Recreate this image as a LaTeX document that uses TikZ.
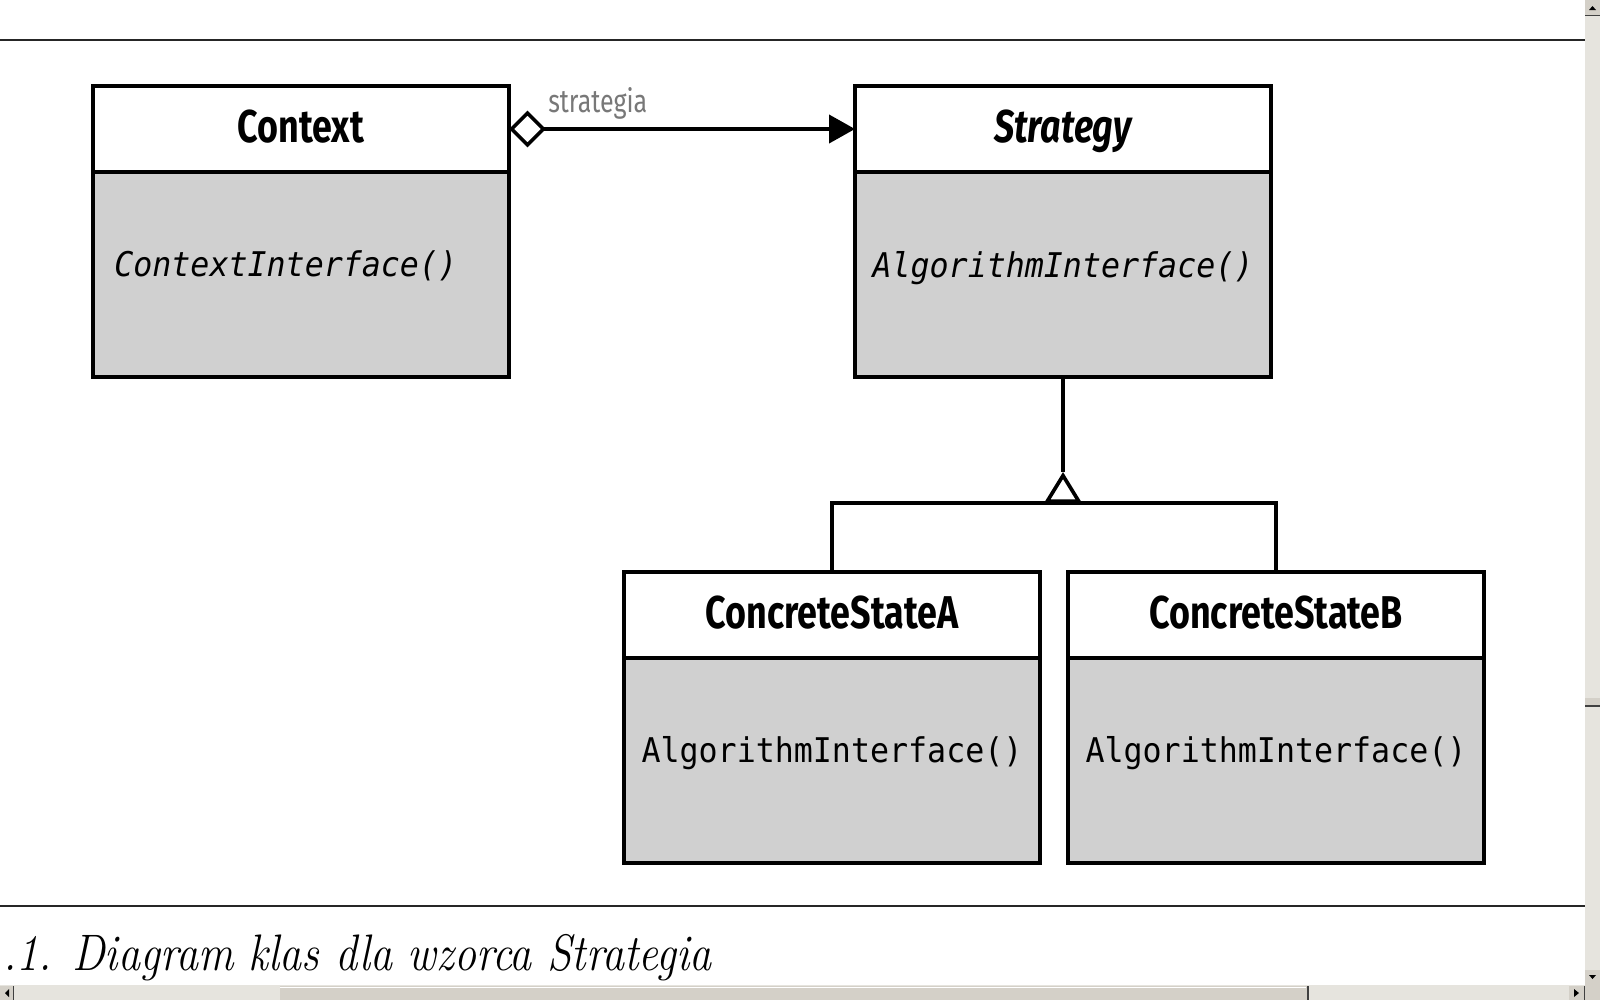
\documentclass[tikz,border=0pt]{standalone}
\usepackage{fontspec}
\newfontfamily\titlefont{Fira Sans}[FakeStretch=0.78]
\newfontfamily\methfont{DejaVu Sans Mono}[FakeStretch=0.93]
\usetikzlibrary{arrows.meta}
\definecolor{boxgray}{RGB}{208,208,208}
\definecolor{labgray}{RGB}{120,120,120}
\definecolor{sbtrack}{RGB}{230,228,222}
\definecolor{sbbtn}{RGB}{212,208,200}
\definecolor{sbshadow}{RGB}{64,64,64}
\def\px{0.25mm}
\tikzset{
  hdr/.style={draw=black, line width=2.9pt, fill=white, rectangle, inner sep=0pt, outer sep=0pt,
    anchor=north west, minimum width=416*\px, minimum height=86*\px,
    font=\titlefont\bfseries\fontsize{32.7}{36}\selectfont, text height=22.6pt, text depth=4pt},
  body/.style={draw=black, line width=2.9pt, fill=boxgray, rectangle, inner sep=0pt, outer sep=0pt,
    anchor=north west, minimum width=416*\px, minimum height=205*\px},
  meth/.style={inner sep=0pt, font=\methfont\fontsize{24.2}{28}\selectfont,
    text height=17.6pt, text depth=0pt},
  conn/.style={line width=2.6pt, black},
  rulel/.style={line width=1.6pt, black!85},
  sbtr/.style={fill=sbtrack, draw=none},
  sbbt/.style={fill=sbbtn, draw=none},
}
\begin{document}
\begin{tikzpicture}[x=0.25mm, y=-0.25mm]
\useasboundingbox[fill=white] (0,0) rectangle (1600,1000);

% rules
\draw[rulel] (0,40) -- (1585,40);
\draw[rulel] (0,906) -- (1585,906);

% Context
\node[hdr] (ctxh) at (93,86) {Context};
\node[body] (ctxb) at (93,172) {};
\node[meth, anchor=west] (ctxm) at (114,264) {\itshape ContextInterface()};

% Strategy
\node[hdr] (strh) at (855,86) {\itshape Strategy};
\node[body] (strb) at (855,172) {};
\node[meth] (strm) at (1063,265) {\itshape AlgorithmInterface()};

% ConcreteStateA
\node[hdr] (ah) at (624,572) {ConcreteStateA};
\node[body] (ab) at (624,658) {};
\node[meth] (am) at (832,750) {AlgorithmInterface()};

% ConcreteStateB
\node[hdr] (bh) at (1068,572) {ConcreteStateB};
\node[body] (bb) at (1068,658) {};
\node[meth] (bm) at (1276,750) {AlgorithmInterface()};

% aggregation
\draw[conn, {Diamond[open,length=26.3pt,width=26.3pt]}-{Triangle[length=18.5pt,width=20pt]}] (ctxh.east) -- (strh.west);
\node[anchor=base west, inner sep=0pt, text=labgray, font=\titlefont\fontsize{22.8}{26}\selectfont] (lab) at (548,112) {strategia};

% generalization
\coordinate (gtip) at (1063,472);
\coordinate (gbar) at (1063,503);
\draw[conn] (strb.south) -- (gtip);
\draw[conn, -{Triangle[open,length=22pt,width=26.3pt]}] (gbar) -- (gtip);
\draw[conn] (ah.north) |- (gbar) -| (bh.north);

% caption
\node[anchor=base west, inner sep=0pt, font=\fontsize{36.5}{40}\selectfont\itshape] (cap) at (3,970) {\scalebox{0.86}[1]{.1. Diagram klas dla wzorca Strategia}};

% vertical scrollbar
\fill[sbtr] (1585,0) rectangle (1600,984);
\fill[sbbt] (1585,0) rectangle (1600,15);
\draw[sbshadow, line width=0.7pt] (1585,15) -- (1600,15);
\fill[black] (1589,10) -- (1596,10) -- (1592.5,6) -- cycle;
\fill[sbbt] (1585,698) rectangle (1600,706);
\draw[sbshadow, line width=0.9pt] (1585,706) -- (1600,706);
\fill[sbbt] (1585,970) rectangle (1600,984);
\draw[sbshadow, line width=0.7pt] (1585,984) -- (1600,984);
\fill[black] (1589,975) -- (1596,975) -- (1592.5,979) -- cycle;

% horizontal scrollbar
\fill[sbtr] (0,985) rectangle (1585,1000);
\fill[sbbt] (0,986) rectangle (13,1000);
\draw[sbshadow, line width=0.7pt] (13,986) -- (13,1000);
\fill[black] (5,993) -- (9,989) -- (9,997) -- cycle;
\fill[sbbt] (280,986) rectangle (1308,1000);
\draw[sbshadow, line width=0.9pt] (1308,986) -- (1308,1000);
\draw[white, line width=0.6pt] (280,987) -- (1306,987);
\fill[sbbt] (1569,986) rectangle (1584,1000);
\draw[sbshadow, line width=0.7pt] (1584,986) -- (1584,1000);
\fill[black] (1574,989) -- (1579,993) -- (1574,997) -- cycle;
\fill[sbbt] (1585,984) rectangle (1600,1000);
\end{tikzpicture}
\end{document}
